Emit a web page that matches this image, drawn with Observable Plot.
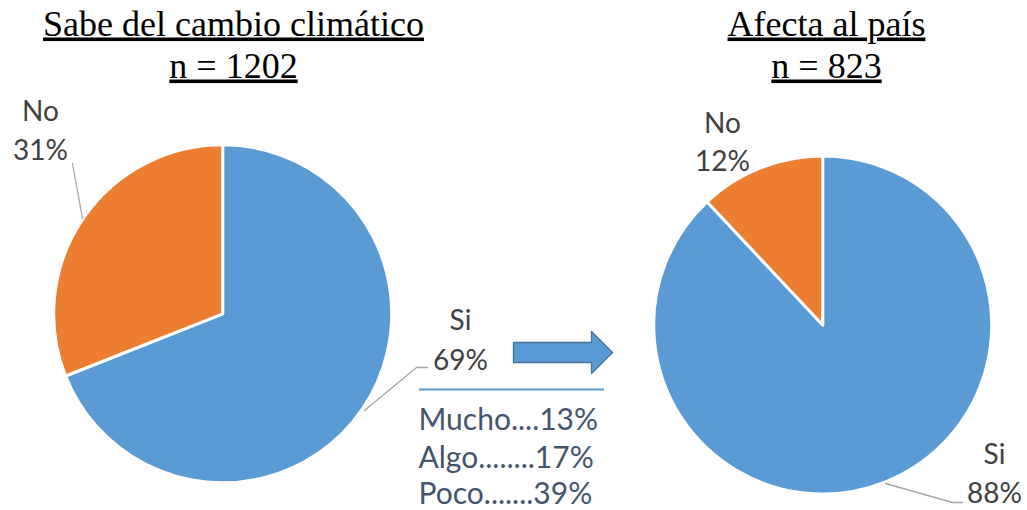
<!DOCTYPE html>
<html><head><meta charset="utf-8">
<script src="https://cdn.jsdelivr.net/npm/d3@7"></script>
<script src="https://cdn.jsdelivr.net/npm/@observablehq/plot@0.6"></script>
<style>html,body{margin:0;padding:0;background:#fff;} svg{display:block}</style>
</head><body><div id="chart"></div>
<script>
// ---- data ----
const pieTitles = ["Sabe del cambio climático", "Afecta al país"];
const pieN = [1202, 823];
const categories = ["Si", "No"];
const siShare = [69, 88];
const noShare = [31, 12];
const detailLabels = ["Mucho", "Algo", "Poco"];
const detailDots = ["....", "........", "......."];
const detailValues = [13, 17, 39];

// ---- styles / layout ----
const colors = {Si: "#5B9BD5", No: "#ED7D31"};
const labelFont = "Lato, 'Noto Sans', sans-serif";
const titleFont = "'Liberation Serif', 'Times New Roman', serif";
const pies = [{cx: 222.7, cy: 313.8, r: 169}, {cx: 822.7, cy: 325, r: 169}];
const titleX = [233, 826];
const titleBaselines = [35, 77];
const labelPos = [
  {Si: {x: 460, y1: 329, y2: 369}, No: {x: 40, y1: 120, y2: 159}},
  {Si: {x: 994, y1: 463, y2: 502}, No: {x: 722, y1: 132, y2: 170}}
];
const leaderPaths = [
  {id: "a", pts: [[72, 163], [82, 218]]},
  {id: "b", pts: [[364, 410], [416, 367], [427, 367]]},
  {id: "c", pts: [[885, 483], [952, 502], [962, 502]]}
];
const arrowShape = [[513,342],[591,342],[591,331],[612,352],[591,373],[591,362],[513,362],[513,342]];
const detailX = 418, detailBaselines = [429, 467, 503];

// ---- tables built from data ----
const pieData = pieTitles.map((t, i) => [
  {cat: categories[0], value: siShare[i]},
  {cat: categories[1], value: noShare[i]}
]);
const titleRows = pieTitles.flatMap((t, i) => [
  {x: titleX[i], y: titleBaselines[0], text: t},
  {x: titleX[i], y: titleBaselines[1], text: `n = ${pieN[i]}`}
]);
const titleTexts = titleRows.map(d => d.text);
const sliceLabelRows = pieData.flatMap((slices, i) => slices.flatMap(s => {
  const p = labelPos[i][s.cat];
  return [{x: p.x, y: p.y1, text: s.cat}, {x: p.x, y: p.y2, text: `${s.value}%`}];
}));
const leaderRows = leaderPaths.flatMap(l => l.pts.map(([x, y]) => ({id: l.id, x, y})));
const arrowRows = arrowShape.map(([x, y]) => ({x, y}));
const detailRows = detailLabels.map((l, i) => ({
  x: detailX, y: detailBaselines[i], text: `${l}${detailDots[i]}${detailValues[i]}%`
}));

function pieRender(slices, geom) {
  return function(...args) {
    const scales = args.find(a => a && typeof a.x === "function" && typeof a.y === "function");
    const cx = scales.x(geom.cx), cy = scales.y(geom.cy);
    const r = Math.abs(scales.x(geom.cx + geom.r) - cx);
    const arcs = d3.pie().sort(null).value(d => d.value)(slices);
    const arc = d3.arc().innerRadius(0).outerRadius(r);
    const g = d3.create("svg:g").attr("transform", `translate(${cx},${cy})`);
    g.selectAll("path").data(arcs).join("path")
      .attr("d", arc)
      .attr("fill", d => colors[d.data.cat])
      .attr("stroke", "#fff")
      .attr("stroke-width", 3)
      .attr("stroke-linejoin", "round");
    return g.node();
  };
}

const chart = Plot.plot({
  width: 1027,
  height: 510,
  margin: 0,
  x: {domain: [0, 1027], range: [0, 1027], axis: null},
  y: {domain: [0, 510], range: [0, 510], axis: null},
  style: {background: "#fff"},
  marks: [
    pieRender(pieData[0], pies[0]),
    pieRender(pieData[1], pies[1]),
    Plot.line(leaderRows, {x: "x", y: "y", z: "id", stroke: "#A6A6A6", strokeWidth: 1.3}),
    Plot.ruleY([389], {x1: 419, x2: 604, stroke: "#5B9BD5", strokeWidth: 2}),
    Plot.line(arrowRows, {x: "x", y: "y", fill: "#5B9BD5", stroke: "#41719C", strokeWidth: 1.3}),
    Plot.text(titleRows, {x: "x", y: "y", text: "text", lineAnchor: "bottom", textAnchor: "middle",
      fontFamily: titleFont, fontSize: 36, fill: "#000"}),
    Plot.text(sliceLabelRows, {x: "x", y: "y", text: "text", lineAnchor: "bottom", textAnchor: "middle",
      fontFamily: labelFont, fontSize: 28, fill: "#404040"}),
    Plot.text(detailRows, {x: "x", y: "y", text: "text", lineAnchor: "bottom", textAnchor: "start",
      fontFamily: labelFont, fontSize: 30, fill: "#44546A"})
  ]
});
d3.select(chart).selectAll("text")
  .filter(function() { return titleTexts.includes(this.textContent); })
  .attr("text-decoration", "underline")
  .style("text-decoration", "underline");
document.getElementById("chart").appendChild(chart);
</script>
</body></html>
